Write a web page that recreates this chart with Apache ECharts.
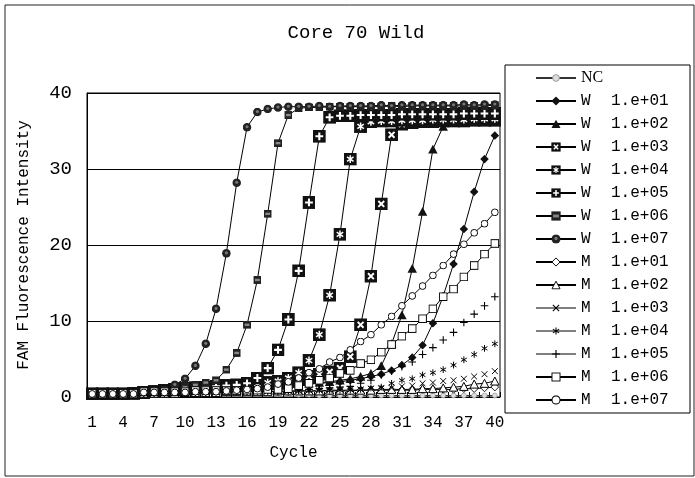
<!DOCTYPE html>
<html>
<head>
<meta charset="utf-8">
<script src="https://cdn.jsdelivr.net/npm/echarts@6/dist/echarts.min.js"></script>
<style>html,body{margin:0;padding:0;background:#fff}#c{width:695px;height:478px}</style>
</head>
<body>
<div id="c"></div>
<script>
var cycles = [];
for (var i = 1; i <= 40; i++) cycles.push(String(i));

var seriesNames = ['NC',
  'W 1.e+01','W 1.e+02','W 1.e+03','W 1.e+04','W 1.e+05','W 1.e+06','W 1.e+07',
  'M 1.e+01','M 1.e+02','M 1.e+03','M 1.e+04','M 1.e+05','M 1.e+06','M 1.e+07'];

var NC = [0.3,0.3,0.3,0.3,0.3,0.4,0.4,0.4,0.4,0.4,
  0.4,0.4,0.4,0.4,0.4,0.4,0.4,0.4,0.4,0.4,
  0.3,0.3,0.2,0.2,0.2,0.2,0.2,0.2,0.2,0.2,
  0.2,0.2,0.2,0.2,0.2,0.2,0.2,0.2,0.2,0.2];
var W1 = [0.4,0.4,0.4,0.4,0.5,0.6,0.7,0.9,1.0,1.0,
  1.1,1.1,1.2,1.2,1.3,1.3,1.4,1.4,1.5,1.5,
  1.6,1.7,1.8,1.9,2.0,2.2,2.4,2.7,3.0,3.5,
  4.2,5.2,6.8,9.7,13.3,17.5,22.1,27.0,31.3,34.4];
var W2 = [0.4,0.4,0.4,0.4,0.5,0.6,0.7,0.9,1.0,1.1,
  1.1,1.2,1.2,1.3,1.3,1.4,1.4,1.5,1.5,1.6,
  1.7,1.8,1.9,2.0,2.2,2.4,2.7,3.1,4.1,7.0,
  10.8,16.9,24.4,32.6,35.6,36.3,36.6,36.8,36.9,37.0];
var W3 = [0.4,0.4,0.4,0.4,0.5,0.6,0.7,0.9,1.0,1.1,
  1.2,1.3,1.4,1.4,1.5,1.5,1.6,1.7,1.8,2.0,
  2.3,2.7,3.0,3.3,3.8,5.3,9.5,15.9,25.4,34.5,
  35.9,36.1,36.2,36.2,36.3,36.3,36.3,36.4,36.4,36.4];
var W4 = [0.4,0.4,0.4,0.4,0.5,0.6,0.7,0.9,1.0,1.1,
  1.2,1.3,1.4,1.5,1.5,1.6,1.7,1.9,2.1,2.5,
  3.2,4.8,8.2,13.4,21.4,31.3,35.6,36.2,36.3,36.3,
  36.4,36.4,36.4,36.5,36.5,36.5,36.5,36.6,36.6,36.6];
var W5 = [0.4,0.4,0.4,0.4,0.5,0.6,0.7,0.9,1.0,1.1,
  1.2,1.3,1.4,1.5,1.6,1.8,2.5,3.8,6.2,10.2,
  16.6,25.6,34.3,36.8,37.0,37.0,37.1,37.1,37.1,37.1,
  37.2,37.2,37.2,37.2,37.2,37.2,37.3,37.3,37.3,37.3];
var W6 = [0.4,0.4,0.4,0.4,0.5,0.6,0.7,0.9,1.1,1.3,
  1.6,1.9,2.2,3.6,5.8,9.5,15.4,24.1,33.4,37.1,
  38.0,38.1,38.1,38.2,38.2,38.2,38.2,38.2,38.2,38.3,
  38.2,38.3,38.3,38.3,38.3,38.3,38.3,38.3,38.3,38.4];
var W7 = [0.4,0.4,0.4,0.4,0.5,0.6,0.7,0.9,1.6,2.4,
  4.1,7.0,11.6,18.9,28.2,35.5,37.5,37.9,38.1,38.2,
  38.2,38.2,38.3,38.2,38.3,38.3,38.3,38.3,38.4,38.3,
  38.4,38.4,38.4,38.4,38.4,38.4,38.5,38.4,38.5,38.5];
var M1 = [0.4,0.4,0.4,0.4,0.4,0.5,0.5,0.5,0.5,0.6,
  0.6,0.6,0.6,0.6,0.7,0.7,0.7,0.7,0.7,0.7,
  0.8,0.8,0.8,0.8,0.8,0.8,0.9,0.9,0.9,0.9,
  0.9,0.9,1.0,1.0,1.0,1.0,1.1,1.1,1.2,1.3];
var M2 = [0.4,0.4,0.4,0.4,0.4,0.5,0.5,0.5,0.5,0.6,
  0.6,0.6,0.6,0.7,0.7,0.7,0.7,0.7,0.8,0.8,
  0.8,0.8,0.8,0.9,0.9,0.9,0.9,0.9,1.0,1.0,
  1.0,1.0,1.1,1.1,1.2,1.3,1.4,1.7,1.8,2.1];
var M3 = [0.4,0.4,0.4,0.4,0.4,0.5,0.5,0.5,0.6,0.6,
  0.6,0.6,0.7,0.7,0.7,0.7,0.8,0.8,0.8,0.8,
  0.8,0.9,0.9,0.9,1.0,1.0,1.0,1.1,1.1,1.2,
  1.4,1.5,1.8,1.9,2.1,2.2,2.4,2.7,3.0,3.4];
var M4 = [0.4,0.4,0.4,0.4,0.4,0.5,0.5,0.5,0.6,0.6,
  0.6,0.6,0.7,0.7,0.7,0.7,0.8,0.8,0.8,0.8,
  0.8,0.8,0.9,0.9,0.9,0.9,1.0,1.2,1.3,1.8,
  2.2,2.4,2.9,3.2,3.6,4.2,4.9,5.6,6.4,7.0];
var M5 = [0.4,0.4,0.4,0.4,0.4,0.5,0.5,0.5,0.6,0.6,
  0.6,0.7,0.7,0.7,0.7,0.8,0.8,0.8,0.8,0.9,
  0.9,1.0,1.1,1.2,1.3,1.4,1.8,2.2,2.9,3.4,
  4.0,4.6,5.6,6.5,7.5,8.5,9.8,10.9,12.0,13.2];
var M6 = [0.5,0.5,0.5,0.5,0.5,0.7,0.7,0.7,0.7,0.7,
  0.85,0.85,0.85,0.85,0.85,0.9,0.9,1.0,1.0,1.1,
  1.5,1.8,2.2,2.5,3.1,3.5,4.4,4.9,5.9,6.9,
  8.0,9.0,10.3,11.6,13.2,14.2,15.8,17.3,18.8,20.2];
var M7 = [0.4,0.4,0.4,0.4,0.4,0.6,0.6,0.6,0.6,0.6,
  0.7,0.7,0.7,0.8,0.9,1.0,1.1,1.3,1.7,2.0,
  2.5,3.2,3.7,4.6,5.2,6.2,7.3,8.2,9.5,10.6,
  12.0,13.3,14.6,16.0,17.3,18.8,20.1,21.6,22.8,24.3];

var seriesData = [NC, W1, W2, W3, W4, W5, W6, W7, M1, M2, M3, M4, M5, M6, M7];

function svg(inner) {
  return 'image://data:image/svg+xml;charset=utf-8,' + encodeURIComponent(
    '<svg xmlns="http://www.w3.org/2000/svg" width="20" height="20" viewBox="0 0 20 20">' + inner + '</svg>');
}
var K = '#111';
var markers = [
  {s: svg('<circle cx="10" cy="10" r="7" fill="#ddd" stroke="#999" stroke-width="2"/>'), z: 7},
  {s: svg('<polygon points="10,0.5 19.5,10 10,19.5 0.5,10" fill="' + K + '"/>'), z: 9},
  {s: svg('<polygon points="10,1 19.5,18.5 0.5,18.5" fill="' + K + '"/>'), z: 10},
  {s: svg('<rect width="20" height="20" fill="' + K + '"/><path d="M5.5 5.5L14.5 14.5M14.5 5.5L5.5 14.5" stroke="#fff" stroke-width="3"/>'), z: 13},
  {s: svg('<rect width="20" height="20" fill="' + K + '"/><path d="M10 4V16M5 6.5L15 13.5M15 6.5L5 13.5" stroke="#fff" stroke-width="2.3"/>'), z: 13},
  {s: svg('<rect width="20" height="20" fill="' + K + '"/><path d="M10 4V16M4 10H16" stroke="#fff" stroke-width="3.2"/>'), z: 13},
  {s: svg('<rect width="20" height="20" fill="#222"/><rect x="4" y="7" width="12" height="6" fill="#888"/>'), z: 8},
  {s: svg('<circle cx="10" cy="10" r="9.5" fill="#222"/><circle cx="10" cy="9" r="3.5" fill="#777"/>'), z: 9},
  {s: svg('<polygon points="10,1.5 18.5,10 10,18.5 1.5,10" fill="#fff" stroke="#000" stroke-width="2"/>'), z: 9},
  {s: svg('<polygon points="10,2 18.5,18 1.5,18" fill="#fff" stroke="#000" stroke-width="2"/>'), z: 10},
  {s: svg('<path d="M3.5 3.5L16.5 16.5M16.5 3.5L3.5 16.5" stroke="#000" stroke-width="2.2"/>'), z: 9},
  {s: svg('<path d="M10 2.5V17.5M3.5 6L16.5 14M16.5 6L3.5 14" stroke="#000" stroke-width="2.2"/>'), z: 9},
  {s: svg('<path d="M10 1.5V18.5M1.5 10H18.5" stroke="#000" stroke-width="2.4"/>'), z: 9},
  {s: svg('<rect x="1.5" y="1.5" width="17" height="17" fill="#fff" stroke="#000" stroke-width="2.2"/>'), z: 9},
  {s: svg('<circle cx="10" cy="10" r="8.5" fill="#fff" stroke="#000" stroke-width="2.4"/>'), z: 8}
];
var noLine = {10: true, 11: true, 12: true};

var series = seriesNames.map(function (n, i) {
  return {
    name: n,
    type: 'line',
    data: seriesData[i],
    symbol: markers[i].s,
    symbolSize: markers[i].z,
    showSymbol: true,
    showAllSymbol: true,
    animation: false,
    itemStyle: {color: '#000'},
    lineStyle: {color: i === 0 ? '#333' : '#000', width: 1, opacity: noLine[i] ? 0 : 1}
  };
});

var legendData = seriesNames.map(function (n, i) {
  var d = {name: n};
  if (noLine[i]) d.lineStyle = {opacity: 1, color: '#000', width: 1.2};
  return d;
});

var chart = echarts.init(document.getElementById('c'), null, {renderer: 'canvas'});
chart.setOption({
  backgroundColor: '#fff',
  animation: false,
  title: {
    text: 'Core 70 Wild', left: 356, top: 23, textAlign: 'center', padding: 0,
    textStyle: {fontFamily: 'Liberation Mono', fontSize: 19, fontWeight: 'normal', color: '#000'}
  },
  graphic: [
    {type: 'rect', shape: {x: 5, y: 5, width: 689, height: 471}, style: {fill: 'none', stroke: '#222', lineWidth: 1}, silent: true, z: -1},
    {type: 'rect', shape: {x: 505, y: 65, width: 185, height: 348}, style: {fill: 'none', stroke: '#000', lineWidth: 1}, silent: true}
  ],
  legend: {
    orient: 'vertical', left: 535, top: 70, padding: 0,
    itemWidth: 40, itemHeight: 12, itemGap: 7,
    data: legendData,
    formatter: function (name) {
      if (name === 'NC') return '{nc|NC}';
      var p = name.split(' ');
      return '{a|' + p[0] + '}{b|' + p[1] + '}';
    },
    textStyle: {
      color: '#000',
      rich: {
        nc: {fontFamily: 'Liberation Serif', fontSize: 16, lineHeight: 16, color: '#000'},
        a: {fontFamily: 'Liberation Mono', fontSize: 16, lineHeight: 16, width: 30, color: '#000'},
        b: {fontFamily: 'Liberation Mono', fontSize: 16, lineHeight: 16, color: '#000'}
      }
    }
  },
  grid: {left: 87, top: 93, width: 413, height: 304, show: true, borderColor: '#000', borderWidth: 1, backgroundColor: 'transparent'},
  xAxis: {
    type: 'category', data: cycles, boundaryGap: true,
    name: 'Cycle', nameLocation: 'middle', nameGap: 48,
    nameTextStyle: {fontFamily: 'Liberation Mono', fontSize: 16, color: '#000'},
    axisLine: {lineStyle: {color: '#000', width: 1}},
    axisTick: {show: true, inside: true, length: 5, interval: 0, lineStyle: {color: '#000'}},
    axisLabel: {interval: 2, margin: 18, fontFamily: 'Liberation Mono', fontSize: 16, color: '#000'},
    splitLine: {show: false}
  },
  yAxis: {
    type: 'value', min: 0, max: 40, interval: 10,
    name: 'FAM Fluorescence Intensity', nameLocation: 'middle', nameGap: 55,
    nameTextStyle: {fontFamily: 'Liberation Mono', fontSize: 16, color: '#000'},
    axisLine: {show: true, lineStyle: {color: '#000', width: 1}},
    axisTick: {show: false},
    axisLabel: {margin: 15, fontFamily: 'Liberation Mono', fontSize: 19, color: '#000'},
    splitLine: {show: true, lineStyle: {color: '#000', width: 1}}
  },
  series: series
});
</script>
</body>
</html>
